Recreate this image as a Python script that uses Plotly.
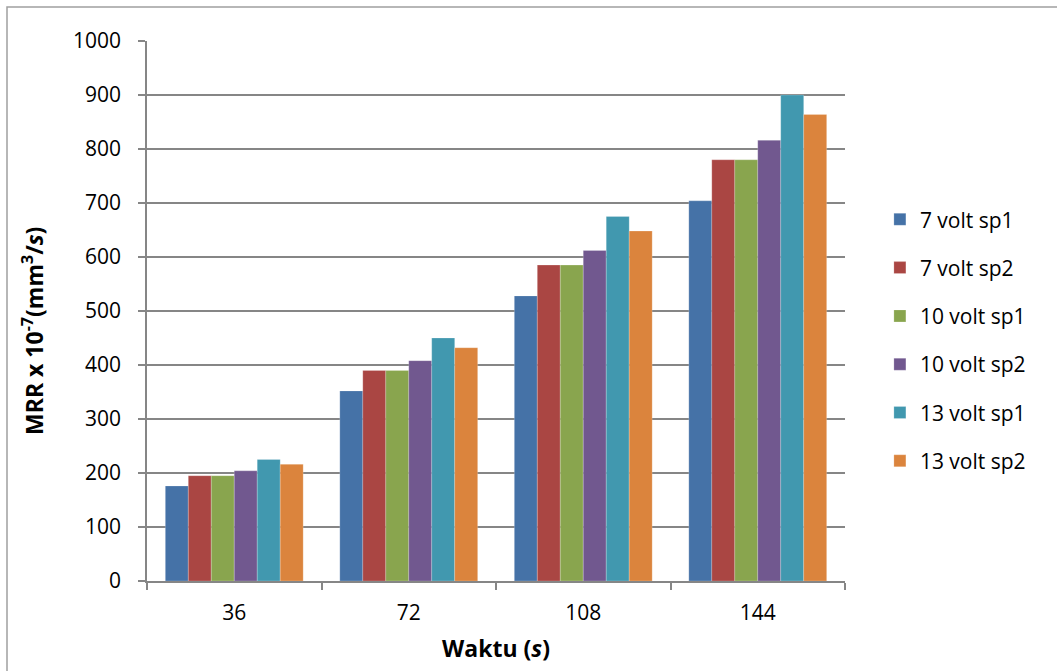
import plotly.graph_objects as go

# Waktu (s) categories
waktu = ["36", "72", "108", "144"]

# MRR x 10^-7 (mm^3/s) for each setting
v7_sp1 = [176, 352, 528, 704]
v7_sp2 = [195, 390, 585, 780]
v10_sp1 = [195, 390, 585, 780]
v10_sp2 = [204, 408, 612, 816]
v13_sp1 = [225, 450, 675, 900]
v13_sp2 = [216, 432, 648, 864]

series = [
    ("7 volt sp1", v7_sp1, "#4572A7"),
    ("7 volt sp2", v7_sp2, "#AA4643"),
    ("10 volt sp1", v10_sp1, "#89A54E"),
    ("10 volt sp2", v10_sp2, "#71588F"),
    ("13 volt sp1", v13_sp1, "#4198AF"),
    ("13 volt sp2", v13_sp2, "#DB843D"),
]

FONT = "Open Sans"
GRID = "#868686"

fig = go.Figure()
for name, vals, color in series:
    fig.add_trace(go.Bar(
        name=name, x=waktu, y=vals, legendgroup=name,
        marker=dict(color=color, line=dict(color="rgba(255,255,255,0.35)", width=0.6)),
    ))

fig.update_layout(
    width=1057, height=671,
    margin=dict(l=147, r=212, t=41, b=90),
    paper_bgcolor="white", plot_bgcolor="white",
    barmode="group", bargap=0.21, bargroupgap=0,
    font=dict(family=FONT, size=21, color="#000000"),
    legend=dict(
        x=1.05, y=0.446, xanchor="left", yanchor="middle",
        font=dict(family=FONT, size=21, color="#000000"),
        tracegroupgap=18, itemwidth=30,
    ),
    xaxis=dict(
        type="category", tickson="boundaries",
        ticks="outside", ticklen=7, tickcolor=GRID, tickwidth=1.5,
        ticklabelstandoff=12,
        showline=True, linecolor=GRID, linewidth=1.5,
        showgrid=False, zeroline=False,
        tickfont=dict(family=FONT, size=21),
        title=dict(text="<b>Waktu (<i>s</i>)</b>", font=dict(family=FONT, size=23), standoff=16),
    ),
    yaxis=dict(
        range=[0, 1000], dtick=100,
        ticks="outside", ticklen=7, tickcolor=GRID, tickwidth=1.5,
        ticklabelstandoff=13,
        showline=True, linecolor=GRID, linewidth=1.5,
        showgrid=True, gridcolor=GRID, gridwidth=1.5,
        zeroline=False,
        tickfont=dict(family=FONT, size=21),
    ),
)

# y-axis title, placed a little below the plot's vertical centre
fig.add_annotation(
    text="<b>MRR x 10<sup>-7</sup>(mm<sup>3</sup>/<i>s</i>)</b>",
    xref="paper", yref="paper", x=-114 / 698, y=0.463,
    xanchor="center", yanchor="middle", textangle=-90, showarrow=False,
    font=dict(family=FONT, size=23, color="#000000"),
)

# outer chart border (top and left edges visible)
fig.add_shape(type="rect", xref="paper", yref="paper",
              x0=-140 / 698, x1=1.4, y0=-0.3, y1=1 + 34 / 540,
              line=dict(color="#A0A0A0", width=1.5), layer="below")

fig.write_html("out.html")
